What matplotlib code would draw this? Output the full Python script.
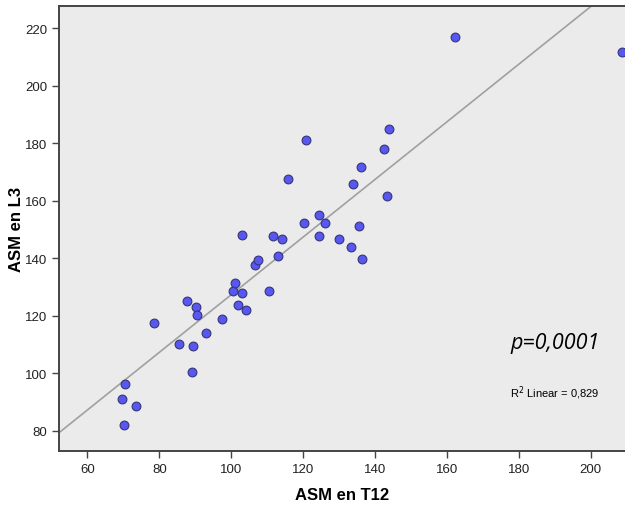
import numpy as np
import matplotlib
matplotlib.use("Agg")
import matplotlib.pyplot as plt

# ASM values
asm_t12 = [70.5, 69.6, 73.5, 70.2, 78.4, 85.6, 87.8, 90.3, 90.4, 89.5, 89.1,
           92.9, 97.3, 100.4, 101.0, 103.0, 102.0, 104.1, 106.7, 107.4, 110.5,
           113.0, 120.9, 115.9, 120.1, 124.4, 103.0, 111.6, 114.1, 124.5,
           162.2, 208.8, 143.9, 142.4, 136.0, 133.8, 143.2, 126.1, 135.6,
           130.0, 133.4, 136.4]
asm_l3 = [96.2, 90.9, 88.7, 82.1, 117.4, 110.1, 125.2, 122.9, 120.3, 109.4,
          100.5, 113.9, 118.8, 128.5, 131.4, 127.8, 123.8, 122.0, 137.8, 139.5,
          128.5, 140.7, 181.0, 167.7, 152.3, 155.2, 148.2, 147.9, 146.7, 147.6,
          217.0, 211.7, 185.1, 178.0, 171.9, 165.9, 161.6, 152.3, 151.1, 146.7,
          144.0, 139.8]
x_ticks = [60, 80, 100, 120, 140, 160, 180, 200]
y_ticks = [80, 100, 120, 140, 160, 180, 200, 220]

plt.rcParams['font.family'] = ['Liberation Sans', 'DejaVu Sans']

fig = plt.figure(figsize=(6.25, 5.06), dpi=100)
ax = fig.add_axes([59 / 625, 1 - 452 / 506, 566 / 625, 445 / 506])
ax.set_facecolor('#ebebeb')

x = np.array(asm_t12)
y = np.array(asm_l3)

# linear fit line across the whole x range
slope, intercept = np.polyfit(x, y, 1)
xl = np.array([50, 215])
ax.plot(xl, slope * xl + intercept, color='#a0a0a0', lw=1.2, zorder=2)

ax.scatter(x, y, s=40, color='#5858f0', edgecolors='#34347a', linewidths=0.8, zorder=3, clip_on=False)

ax.set_xlim(52.1, 209.5)
ax.set_ylim(72.9, 227.8)
ax.set_xticks(x_ticks)
ax.set_yticks(y_ticks)

for s in ['left', 'bottom', 'top']:
    ax.spines[s].set_color('#444444')
    ax.spines[s].set_linewidth(1.4)
ax.spines['right'].set_visible(False)
ax.tick_params(axis='both', colors='#444444', labelcolor='#222222', labelsize=9.5, length=5, width=1)

ax.set_xlabel('ASM en T12', fontsize=12, fontweight='bold', labelpad=9)
ax.set_ylabel('ASM en L3', fontsize=12, fontweight='bold', labelpad=1)

ax.text(0.797, 0.243, 'p=0,0001', fontsize=15.5, style='italic', family='Open Sans',
        transform=ax.transAxes, va='center', ha='left')
ax.text(0.797, 0.133, r'R$^2$ Linear = 0,829', fontsize=8, transform=ax.transAxes,
        va='center', ha='left')

fig.savefig('out.png', dpi=100)
